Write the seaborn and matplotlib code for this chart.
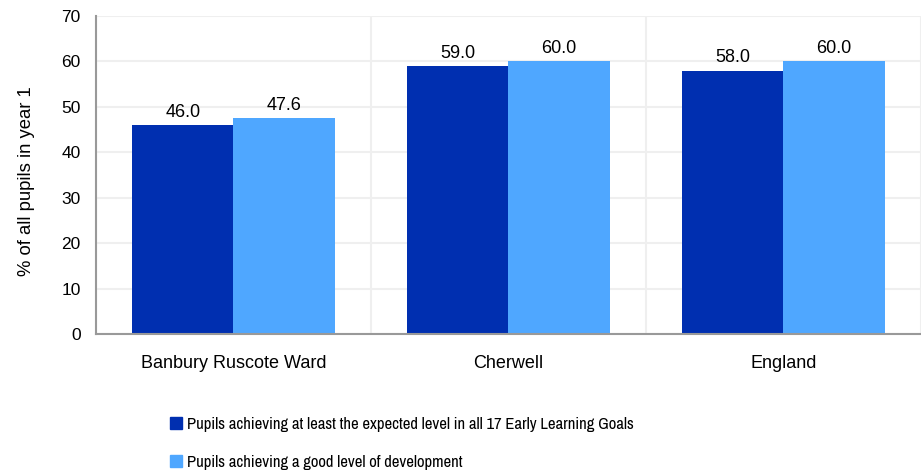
import pandas as pd
import seaborn as sns
import matplotlib.pyplot as plt
from matplotlib.ticker import FixedLocator

areas = ["Banbury Ruscote Ward", "Cherwell", "England"]
expected_all_goals = [46.0, 59.0, 58.0]
good_development = [47.6, 60.0, 60.0]
series_names = ["Pupils achieving at least the expected level in all 17 Early Learning Goals",
                "Pupils achieving a good level of development"]

df = pd.DataFrame({"area": areas,
                   series_names[0]: expected_all_goals,
                   series_names[1]: good_development})
df_long = df.melt(id_vars="area", var_name="series", value_name="pct")

sns.set_style("white")
plt.rcParams['font.family'] = ['Liberation Sans', 'DejaVu Sans']
plt.rcParams['text.color'] = "black"
plt.rcParams['xtick.color'] = "black"
plt.rcParams['ytick.color'] = "black"
plt.rcParams['axes.labelcolor'] = "black"

fig = plt.figure(figsize=(9.21, 4.72), dpi=100)
ax = fig.add_axes([0.1042, 0.2924, 0.8958, 0.6737])

ax = sns.barplot(data=df_long, x="area", y="pct", hue="series",
                 palette=["#002FB0", "#4FA7FF"], width=0.735, saturation=1,
                 linewidth=0, ax=ax, legend=False)

for container in ax.containers:
    ax.bar_label(container, fmt="%.1f", padding=3, fontsize=13)

ax.set_ylim(0, 70)
ax.set_xlim(-0.5, 2.5)
ax.set_yticks(range(0, 71, 10))
ax.xaxis.set_minor_locator(FixedLocator([-0.5, 0.5, 1.5, 2.5]))
ax.tick_params(axis="x", which="major", length=0, labelsize=13, pad=15)
ax.tick_params(axis="x", which="minor", length=6, color="#999999", width=1.2)
ax.tick_params(axis="y", length=6, color="#999999", width=1.2, labelsize=12.5, pad=5,
               labelcolor="black")
ax.grid(axis="y", color="#efefef", lw=1.5)
ax.grid(axis="x", which="minor", color="#efefef", lw=1.5)
ax.set_axisbelow(True)
for s in ["top", "right"]:
    ax.spines[s].set_visible(False)
for s in ["left", "bottom"]:
    ax.spines[s].set_color("#999999")
    ax.spines[s].set_linewidth(1.5)
ax.set_xlabel("")
ax.set_ylabel("% of all pupils in year 1", fontsize=13.3)
ax.yaxis.set_label_coords(-0.074, 0.48)

handles = [plt.Line2D([], [], marker="s", ls="", markersize=9, color=c) for c in ["#002FB0", "#4FA7FF"]]
fig.legend(handles, series_names, loc="upper left", bbox_to_anchor=(0.175, 0.13),
           frameon=False, handletextpad=0.15, labelspacing=1.35,
           handlelength=1.0, borderaxespad=0,
           prop={"family": ["Archivo Narrow", "Liberation Sans"], "size": 12})

fig.savefig("out.png", dpi=100)
